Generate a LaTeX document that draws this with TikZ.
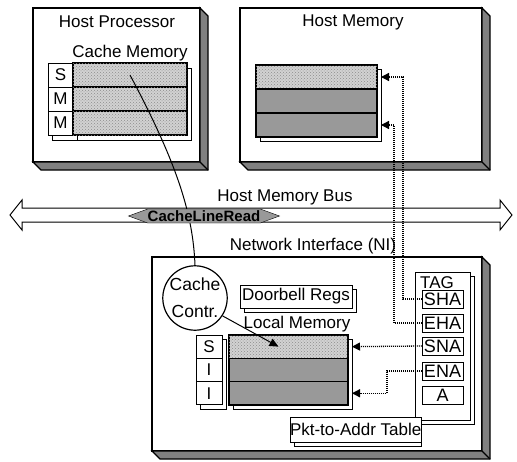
\documentclass[tikz,border=0pt]{standalone}
\usepackage{fontspec}
\setmainfont{Liberation Sans}
\usetikzlibrary{positioning,calc,shapes.symbols,patterns,arrows.meta}

\begin{document}
\begin{tikzpicture}[x=1pt,y=-1pt,font=\fontsize{17}{19}\selectfont]

    \tikzstyle{frame}=[draw,fill=white,line width=1.2pt,outer sep=0pt,inner sep=0pt]
    \tikzstyle{side}=[draw,line width=1.2pt,fill=gray]
    \tikzstyle{card}=[draw,fill=white,line width=1pt,outer sep=0pt,inner sep=0pt]
    \tikzstyle{light}=[draw,line width=1.2pt,fill=gray!35,outer sep=0pt,inner sep=0pt,postaction={pattern=crosshatch dots,pattern color=gray!90}]
    \tikzstyle{dark}=[draw,line width=1.2pt,fill=gray!80,outer sep=0pt,inner sep=0pt]
    \tikzstyle{tagcell}=[draw,fill=white,line width=1pt,outer sep=0pt,inner sep=0pt]
    \tikzstyle{ptr}=[line width=1.3pt,dash pattern=on 1pt off 1pt,-{Triangle[length=8pt,width=8pt]}]

    \useasboundingbox (0,0) rectangle (517,461);

% host processor
\node (hp) [frame,minimum width=167pt,minimum height=154pt] at (116.5,85) {};
\draw[side] (hp.north east) -- ++(8,8) -- ++(0,154) -- ++(-167,0) -- (hp.south west) -- (hp.south east) -- cycle;
\draw[line width=1.2pt] (hp.south east) -- ++(8,8);
\node (hp_label) at (117,22) {Host Processor};
\node (cm_label) at (130,53) {Cache Memory};

\node (cm_tagcard) [card,minimum width=25pt,minimum height=72pt,anchor=north west] at (52,68) {};
\node (cm_card) [card,minimum width=114pt,minimum height=72pt,anchor=north west] at (77,68) {};
\node (c1) [tagcell,minimum width=25pt,minimum height=24pt,anchor=north west] at (48,63) {S};
\node (c2) [tagcell,minimum width=25pt,minimum height=24pt,below=0pt of c1] {M};
\node (c3) [tagcell,minimum width=25pt,minimum height=24pt,below=0pt of c2] {M};
\node (d1) [light,minimum width=114pt,minimum height=24pt,anchor=north west] at (73,63) {};
\node (d2) [light,minimum width=114pt,minimum height=24pt,below=0pt of d1] {};
\node (d3) [light,minimum width=114pt,minimum height=24pt,below=0pt of d2] {};

% host memory
\node (hm) [frame,minimum width=242pt,minimum height=154pt] at (361,85) {};
\draw[side] (hm.north east) -- ++(8,8) -- ++(0,154) -- ++(-242,0) -- (hm.south west) -- (hm.south east) -- cycle;
\draw[line width=1.2pt] (hm.south east) -- ++(8,8);
\node (hm_label) at (353,22) {Host Memory};

\node (hm_card) [card,minimum width=121pt,minimum height=72pt,anchor=north west] at (260,69) {};
\node (m1) [light,minimum width=121pt,minimum height=24pt,anchor=north west] at (256,65) {};
\node (m2) [dark,minimum width=121pt,minimum height=24pt,below=0pt of m1] {};
\node (m3) [dark,minimum width=121pt,minimum height=24pt,below=0pt of m2] {};

% bus
\draw[fill=white,line width=1pt] (10,215) -- (22,200) -- (22,208) -- (500,208) -- (500,200) -- (512,215) -- (500,230) -- (500,222) -- (22,222) -- (22,230) -- cycle;
\node (bus_label) at (285,197) {Host Memory Bus};

% network interface
\node (ni) [frame,minimum width=330pt,minimum height=194pt] at (317,354) {};
\draw[side] (ni.north east) -- ++(8,8) -- ++(0,194) -- ++(-330,0) -- (ni.south west) -- (ni.south east) -- cycle;
\draw[line width=1.2pt] (ni.south east) -- ++(8,8);
\node (ni_label) at (313,246) {Network Interface (NI)};

\node (cc) [circle,draw,line width=1.2pt,fill=white,minimum size=63pt,inner sep=0pt,align=center,font=\fontsize{17.5}{27}\selectfont] at (195,298) {Cache\\Contr.};

\node (db_card) [card,minimum width=112pt,minimum height=23pt,anchor=north west] at (244,289) {};
\node (db) [card,minimum width=112pt,minimum height=23pt,anchor=north west] at (240,285) {Doorbell Regs};

\node (lm_label) at (297,324) {Local Memory};
\node (lm_tagcard) [card,minimum width=26pt,minimum height=70pt,anchor=north west] at (200,339) {};
\node (lm_card) [card,minimum width=119pt,minimum height=70pt,anchor=north west] at (233,339) {};
\node (t1) [tagcell,minimum width=26pt,minimum height=23.3pt,anchor=north west] at (196,335) {S};
\node (t2) [tagcell,minimum width=26pt,minimum height=23.3pt,below=0pt of t1] {I};
\node (t3) [tagcell,minimum width=26pt,minimum height=23.3pt,below=0pt of t2] {I};
\node (lm1) [light,minimum width=119pt,minimum height=23.3pt,anchor=north west] at (229,335) {};
\node (lm2) [dark,minimum width=119pt,minimum height=23.3pt,below=0pt of lm1] {};
\node (lm3) [dark,minimum width=119pt,minimum height=23.3pt,below=0pt of lm2] {};

\node (tag_card) [card,minimum width=55pt,minimum height=148pt,anchor=north west] at (419,276) {};
\node (tag) [card,minimum width=55pt,minimum height=148pt,anchor=north west] at (415,272) {};
\node (tag_label) at (437,283) {TAG};
\node (sha) [tagcell,minimum width=41pt,minimum height=18pt,font=\fontsize{18}{18}\selectfont] at (442.5,299) {SHA};
\node (eha) [tagcell,minimum width=41pt,minimum height=18pt,font=\fontsize{18}{18}\selectfont] at (442.5,323) {EHA};
\node (sna) [tagcell,minimum width=41pt,minimum height=18pt,font=\fontsize{18}{18}\selectfont] at (442.5,346) {SNA};
\node (ena) [tagcell,minimum width=41pt,minimum height=18pt,font=\fontsize{18}{18}\selectfont] at (442.5,371) {ENA};
\node (a) [tagcell,minimum width=41pt,minimum height=18pt,font=\fontsize{18}{18}\selectfont] at (442.5,395) {A};

\node (pt_card) [card,minimum width=127pt,minimum height=25pt,anchor=north west] at (294,421) {};
\node (pt) [card,minimum width=127pt,minimum height=25pt,anchor=north west] at (290,417) {Pkt-to-Addr Table};

% read path
\draw[line width=1pt] (d1.center) .. controls (178,165) and (193,215) .. (cc.north);
\node (clr) [shape=signal,signal to=west and east,signal pointer angle=40,draw,fill=gray!80,inner sep=0pt,minimum height=14pt,font=\fontsize{15}{15}\bfseries] at (204,216) {CacheLineRead};
\draw[line width=1pt,-{Triangle[length=9pt,width=8pt]}] (cc.-33) -- ([xshift=-10pt]lm1.center);

% tag pointers
\draw[ptr] (sha.west) -- ++(-19,0) |- ([xshift=4pt]m1.east);
\draw[ptr] (eha.west) -- ++(-28,0) |- ([xshift=4pt]m3.east);
\draw[ptr] (sna.west) -- ([xshift=4pt]lm1.east);
\draw[ptr] (ena.west) -- ++(-35,0) |- ([xshift=4pt]lm3.east);

\end{tikzpicture}
\end{document}
